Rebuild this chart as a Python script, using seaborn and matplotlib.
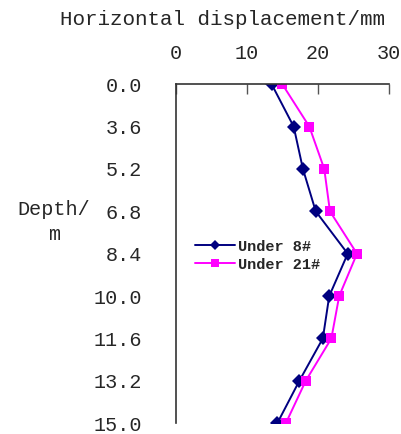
import numpy as np
import pandas as pd
import matplotlib
matplotlib.use("Agg")
import matplotlib.pyplot as plt
import seaborn as sns

# --- datos ---
depths = ["0.0", "3.6", "5.2", "6.8", "8.4", "10.0", "11.6", "13.2", "15.0"]
under_8 = [13.5, 16.6, 17.9, 19.7, 24.2, 21.6, 20.7, 17.4, 14.3]
under_21 = [15.0, 18.8, 20.9, 21.7, 25.5, 23.0, 21.9, 18.3, 15.5]

sns.set_style("white")
plt.rcParams['font.family'] = ['Liberation Mono', 'DejaVu Sans Mono']

pos = np.arange(len(depths))
df = pd.DataFrame({
    'pos': np.concatenate([pos, pos]),
    'desp': under_8 + under_21,
    'serie': ['Under 8#'] * len(depths) + ['Under 21#'] * len(depths),
})

fig = plt.figure(figsize=(4.01, 4.34), dpi=100)
ax = fig.add_axes([0.438, 0.025, 0.532, 0.781])

sns.lineplot(data=df, x='desp', y='pos', hue='serie', style='serie',
             palette={'Under 8#': '#000080', 'Under 21#': '#FF00FF'},
             markers={'Under 8#': 'D', 'Under 21#': 's'},
             dashes=False, sort=False, linewidth=1.4, markersize=7,
             markeredgewidth=0, ax=ax)

ax.set_xlim(0, 30)
ax.set_ylim(len(depths) - 1, 0)
ax.set_xticks([0, 10, 20, 30])
ax.set_yticks(pos)
ax.set_yticklabels(depths)
ax.xaxis.tick_top()
ax.set_xlabel('')
ax.set_ylabel('')
ax.tick_params(axis='x', direction='in', length=7, width=1, labelsize=14.5, pad=15, color='#555555')
ax.tick_params(axis='y', direction='in', length=8, width=1, labelsize=14.5, pad=24, color='#555555')

for s in ['right', 'bottom']:
    ax.spines[s].set_visible(False)
for s in ['left', 'top']:
    ax.spines[s].set_color('#333333')
    ax.spines[s].set_linewidth(1.2)

# titulos (eje x arriba, profundidad a la izquierda)
fig.text(0.554, 0.956, 'Horizontal displacement/mm', fontsize=15, ha='center', va='center')
fig.text(0.135, 0.488, 'Depth/\nm', fontsize=14.5, ha='center', va='center', linespacing=1.4)

leg = ax.legend(loc='center left', bbox_to_anchor=(0.09, 0.494), frameon=False,
                fontsize=11, handlelength=2.6, handletextpad=0.2, borderaxespad=0,
                borderpad=0, labelspacing=0.25, markerscale=0.8)
for t in leg.get_texts():
    t.set_fontweight('bold')

fig.savefig('out.png', dpi=100)
